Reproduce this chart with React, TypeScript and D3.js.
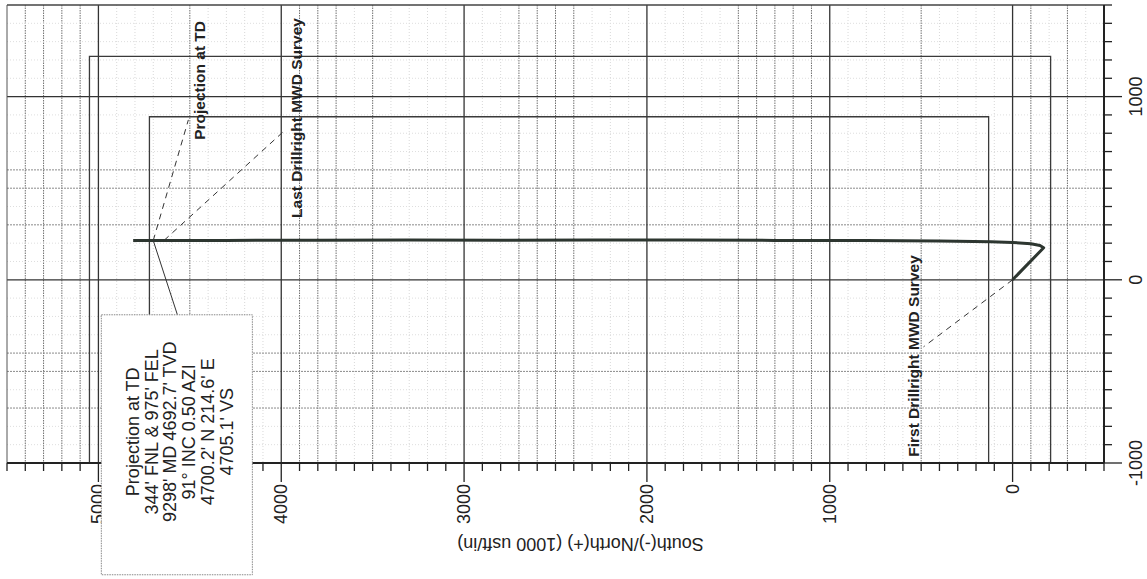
import React, { useEffect, useRef } from 'react';
import * as d3 from 'd3';

// well path, North(+) and East(+) in usft
const pathNorth = [0, -170, -150, -100, 0, 120, 400, 800, 1300, 1800, 2300, 2800, 3300, 3800, 4300, 4640, 4700.2, 4810];
const pathEast = [0, 175, 187, 197, 204, 208, 212, 214, 215, 217, 217, 216, 217, 216, 215, 215, 214.6, 215];

// lease / setback lines (N, E corners)
const outerLine = { north: [-208, -208, 5049, 5049], east: [-1000, 1220, 1220, -1000] };
const innerLine = { north: [131, 131, 4721, 4721], east: [-1000, 890, 890, -1000] };

// grid
const majorTicks = [5000, 4000, 3000, 2000, 1000, 0];
const eastTicks = [1000, 0, -1000];
const darkNorthGrid = [5400, 5300, 5200, 5100, 4500, 3900, 3800, 3700, 3500, 2700, 2600, 2500, 2400, 1500, 1400, 1300, 1200, 1100, 500, -100, -300];
const darkEastGrid = [600, 500, 300, -400, -500, -700];

// annotations
const labelText = ['Projection at TD', 'Last Drillright MWD Survey', 'First Drillright MWD Survey'];
const labelNorth = [4415, 3884, 514];
const labelEast = [764, 338, -966];
const leaderFromN = [4700.2, 4640, 0];
const leaderFromE = [214.6, 216, 0];
const leaderToN = [4508, 3977, 487];
const leaderToE = [873, 819, -366];

const calloutLines = [
  'Projection at TD',
  "344' FNL & 975' FEL",
  "9298' MD 4692.7' TVD",
  '91° INC 0.50 AZI',
  "4700.2' N 214.6' E",
  "4705.1' VS",
];
const calloutNorth = [4984, 4158];
const calloutEast = [-191, -1610];
const calloutPointer = { north: 4568, east: -191 };

const App = () => {
  const ref = useRef(null);

  useEffect(() => {
    const svg = d3.select(ref.current);
    svg.selectAll('*').remove();
    const font = '"Liberation Sans", Arial, sans-serif';

    const x = d3.scaleLinear().domain([5500, -500]).range([7, 1104]);
    const y = d3.scaleLinear().domain([1500, -1000]).range([5, 463]);
    const [x0, x1] = x.range();
    const [y0, y1] = y.range();

    const g = svg.append('g');

    // minor grid
    const minorN = d3.range(-400, 5500, 100).filter((v) => v % 1000 !== 0);
    const minorE = d3.range(-900, 1500, 100).filter((v) => v % 1000 !== 0);
    g.selectAll('.vmin').data(minorN).enter().append('line')
      .attr('x1', (d) => x(d)).attr('x2', (d) => x(d)).attr('y1', y0).attr('y2', y1)
      .attr('stroke', (d) => (darkNorthGrid.includes(d) ? '#707070' : '#d8d8d8'))
      .attr('stroke-width', 1)
      .attr('stroke-dasharray', (d) => (darkNorthGrid.includes(d) ? '1.5,1' : '1,2'));
    g.selectAll('.hmin').data(minorE).enter().append('line')
      .attr('y1', (d) => y(d)).attr('y2', (d) => y(d)).attr('x1', x0).attr('x2', x1)
      .attr('stroke', (d) => (darkEastGrid.includes(d) ? '#8a8a8a' : '#dedede'))
      .attr('stroke-width', 1)
      .attr('stroke-dasharray', (d) => (darkEastGrid.includes(d) ? '2,1' : '1,2'));

    // major grid
    g.selectAll('.vmaj').data(majorTicks).enter().append('line')
      .attr('x1', (d) => x(d)).attr('x2', (d) => x(d)).attr('y1', y0).attr('y2', y1)
      .attr('stroke', '#333').attr('stroke-width', 1.3);
    g.selectAll('.hmaj').data([1000, 0]).enter().append('line')
      .attr('y1', (d) => y(d)).attr('y2', (d) => y(d)).attr('x1', x0).attr('x2', x1)
      .attr('stroke', '#333').attr('stroke-width', 1.3);

    // border
    g.append('line').attr('x1', x0).attr('x2', x1).attr('y1', y0).attr('y2', y0)
      .attr('stroke', '#444').attr('stroke-width', 1.3);
    g.append('line').attr('x1', x0).attr('x2', x0).attr('y1', y0).attr('y2', y1)
      .attr('stroke', '#555').attr('stroke-width', 1);

    // lease lines
    const rect = d3.line().x((d) => x(d[0])).y((d) => y(d[1]));
    [outerLine, innerLine].forEach((r) => {
      g.append('path')
        .attr('d', rect(d3.zip(r.north, r.east)))
        .attr('fill', 'none').attr('stroke', '#3a3a3a').attr('stroke-width', 1.3);
    });

    // well path
    g.append('path')
      .attr('d', d3.line().x((d) => x(d[0])).y((d) => y(d[1]))(d3.zip(pathNorth, pathEast)))
      .attr('fill', 'none').attr('stroke', '#2d3630').attr('stroke-width', 3)
      .attr('stroke-linejoin', 'round');

    // dashed leaders
    labelText.forEach((t, i) => {
      g.append('line')
        .attr('x1', x(leaderFromN[i])).attr('y1', y(leaderFromE[i]))
        .attr('x2', x(leaderToN[i])).attr('y2', y(leaderToE[i]))
        .attr('stroke', '#333').attr('stroke-width', 1)
        .attr('stroke-dasharray', '6,5');
      g.append('text')
        .attr('transform', `translate(${x(labelNorth[i])},${y(labelEast[i])}) rotate(-90)`)
        .attr('font-family', font).attr('font-size', 15.5).attr('font-weight', 'bold')
        .attr('fill', '#222').text(t);
    });

    // bottom axis
    const ticks100 = d3.range(-500, 5501, 100);
    g.append('line').attr('x1', x0).attr('x2', x1).attr('y1', y1).attr('y2', y1)
      .attr('stroke', '#222').attr('stroke-width', 2);
    g.selectAll('.bt').data(ticks100).enter().append('line')
      .attr('x1', (d) => x(d)).attr('x2', (d) => x(d)).attr('y1', y1)
      .attr('y2', (d) => y1 + (d % 1000 === 0 ? 19 : 8))
      .attr('stroke', '#222').attr('stroke-width', 1.3);
    g.selectAll('.bl').data(majorTicks).enter().append('text')
      .attr('transform', (d) => `translate(${x(d) + 6},${y1 + 21}) rotate(-90)`)
      .attr('text-anchor', 'end')
      .attr('font-family', font).attr('font-size', 18).attr('fill', '#222')
      .text((d) => d);

    // right axis
    const eTicks = d3.range(-1000, 1501, 100);
    g.append('line').attr('x1', x1).attr('x2', x1).attr('y1', y0).attr('y2', y1)
      .attr('stroke', '#222').attr('stroke-width', 2);
    g.selectAll('.rt').data(eTicks).enter().append('line')
      .attr('y1', (d) => y(d)).attr('y2', (d) => y(d)).attr('x1', x1)
      .attr('x2', (d) => x1 + (d % 1000 === 0 ? 18 : 8))
      .attr('stroke', '#222').attr('stroke-width', 1.3);
    g.selectAll('.rl').data(eastTicks).enter().append('text')
      .attr('transform', (d) => `translate(${x1 + 38},${y(d)}) rotate(-90)`)
      .attr('text-anchor', 'middle')
      .attr('font-family', font).attr('font-size', 18).attr('fill', '#222')
      .text((d) => d);

    // axis title, upside down as printed
    g.append('text')
      .attr('transform', `translate(${(x(5500) + x(-500)) / 2 + 25},${y1 + 81}) rotate(180)`)
      .attr('text-anchor', 'middle').attr('dominant-baseline', 'central')
      .attr('font-family', font).attr('font-size', 18).attr('fill', '#222')
      .text('South(-)/North(+) (1000 usft/in)');

    // callout
    g.append('line')
      .attr('x1', x(leaderFromN[0])).attr('y1', y(leaderFromE[0]))
      .attr('x2', x(calloutPointer.north)).attr('y2', y(calloutPointer.east))
      .attr('stroke', '#333').attr('stroke-width', 1);
    const bx = x(calloutNorth[0]);
    const bw = x(calloutNorth[1]) - bx;
    const by = y(calloutEast[0]);
    const bh = y(calloutEast[1]) - by;
    g.append('rect')
      .attr('x', bx).attr('y', by).attr('width', bw).attr('height', bh)
      .attr('fill', '#fff').attr('stroke', '#888').attr('stroke-width', 1)
      .attr('stroke-dasharray', '1.5,1');
    calloutLines.forEach((t, i) => {
      const cx = bx + bw / 2 + 3 + (i - 2.5) * 18.8;
      const cy = by + bh / 2 - 13;
      g.append('text')
        .attr('transform', `translate(${cx},${cy}) rotate(-90)`)
        .attr('text-anchor', 'middle').attr('dominant-baseline', 'central')
        .attr('font-family', font).attr('font-size', 18).attr('fill', '#222')
        .text(t);
    });
  }, []);

  return (
    <svg ref={ref} width="1147" height="579"
      style={{ position: 'absolute', left: 0, top: 0, background: '#fff' }}></svg>
  );
};

export default App;
